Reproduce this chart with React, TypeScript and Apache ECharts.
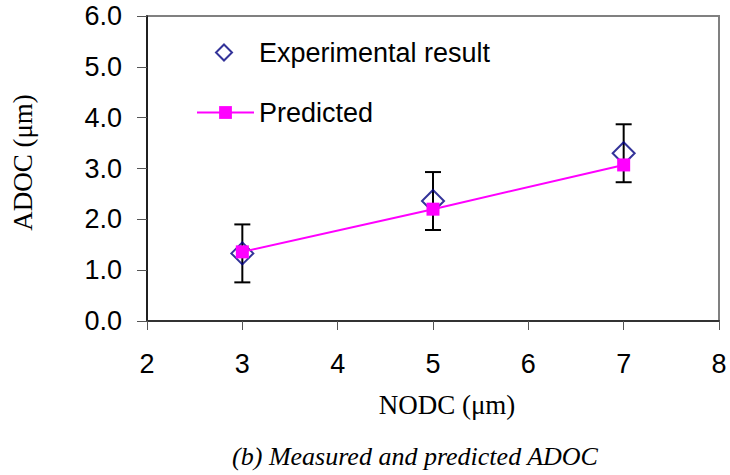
import React, { useEffect, useRef } from "react";
import * as echarts from "echarts";

const xValues = [3, 5, 7];
const experimental = [1.33, 2.36, 3.3];
const errorLow = [0.76, 1.79, 2.73];
const errorHigh = [1.9, 2.93, 3.87];
const predicted = [1.36, 2.2, 3.07];

const SANS = "'Liberation Sans', Arial, sans-serif";
const SERIF = "'Liberation Serif', 'Times New Roman', serif";

export default function App() {
  const ref = useRef<HTMLDivElement>(null);
  useEffect(() => {
    if (!ref.current) return;
    document.body.style.margin = "0";
    const chart = echarts.init(ref.current, null, { renderer: "svg" });
    const expData = xValues.map((x, i) => [x, experimental[i]]);
    const predData = xValues.map((x, i) => [x, predicted[i]]);
    const errData = xValues.map((x, i) => [x, errorLow[i], errorHigh[i]]);
    chart.setOption({
      animation: false,
      backgroundColor: "#fff",
      grid: {
        left: 147,
        top: 16,
        right: 11,
        bottom: 154,
        show: true,
        borderColor: "#808080",
        borderWidth: 2,
      },
      legend: [
        {
          orient: "vertical",
          left: 210,
          top: 34,
          itemWidth: 16,
          itemHeight: 16,
          textStyle: { fontFamily: SANS, fontSize: 27, color: "#000", padding: [0, 0, 0, 22] },
          data: ["Experimental result"],
        },
        {
          orient: "vertical",
          left: 191,
          top: 94,
          itemWidth: 57,
          itemHeight: 16,
          textStyle: { fontFamily: SANS, fontSize: 27, color: "#000" },
          data: ["Predicted"],
        },
      ],
      xAxis: {
        type: "value",
        min: 2,
        max: 8,
        interval: 1,
        name: "NODC (μm)",
        nameLocation: "middle",
        nameGap: 70,
        nameTextStyle: { fontFamily: SERIF, fontSize: 27, color: "#000", padding: [0, 0, 0, 28] },
        axisLine: { lineStyle: { color: "#333", width: 2 } },
        axisTick: { inside: false, length: 9, lineStyle: { color: "#555" } },
        axisLabel: { fontFamily: SANS, fontSize: 27, color: "#000", margin: 29 },
        splitLine: { show: false },
      },
      yAxis: {
        type: "value",
        min: 0,
        max: 6,
        interval: 1,
        name: "ADOC (μm)",
        nameLocation: "middle",
        nameGap: 111,
        nameTextStyle: { fontFamily: SERIF, fontSize: 27, color: "#000", padding: [0, 0, 0, 12] },
        axisLine: { lineStyle: { color: "#000", width: 1.5 } },
        axisTick: { inside: false, length: 10, lineStyle: { color: "#555" } },
        axisLabel: {
          fontFamily: SANS,
          fontSize: 27,
          color: "#000",
          margin: 25,
          formatter: (v: number) => v.toFixed(1),
        },
        splitLine: { show: false },
      },
      graphic: [
        {
          type: "text",
          x: 415,
          y: 456,
          style: {
            text: "(b) Measured and predicted ADOC",
            fontFamily: SERIF,
            fontStyle: "italic",
            fontSize: 26,
            fill: "#000",
            textAlign: "center",
            textVerticalAlign: "middle",
          },
        },
      ],
      series: [
        {
          type: "custom",
          name: "error",
          z: 2,
          data: errData,
          renderItem: (params: any, api: any) => {
            const x = api.value(0);
            const lo = api.coord([x, api.value(1)]);
            const hi = api.coord([x, api.value(2)]);
            const hw = 8;
            const style = { stroke: "#000", lineWidth: 2 };
            return {
              type: "group",
              children: [
                { type: "line", shape: { x1: lo[0], y1: lo[1], x2: hi[0], y2: hi[1] }, style },
                { type: "line", shape: { x1: lo[0] - hw, y1: lo[1], x2: lo[0] + hw, y2: lo[1] }, style },
                { type: "line", shape: { x1: hi[0] - hw, y1: hi[1], x2: hi[0] + hw, y2: hi[1] }, style },
              ],
            };
          },
        },
        {
          type: "scatter",
          name: "Experimental result",
          z: 3,
          symbol: "diamond",
          symbolSize: 22,
          data: expData,
          itemStyle: { color: "rgba(255,255,255,0)", borderColor: "#000080", borderWidth: 2 },
        },
        {
          type: "line",
          name: "Predicted",
          z: 4,
          symbol: "rect",
          symbolSize: 13,
          data: predData,
          lineStyle: { color: "#FF00FF", width: 2 },
          itemStyle: { color: "#FF00FF" },
        },
      ],
    });
    return () => chart.dispose();
  }, []);
  return <div ref={ref} style={{ width: 730, height: 475 }} />;
}
